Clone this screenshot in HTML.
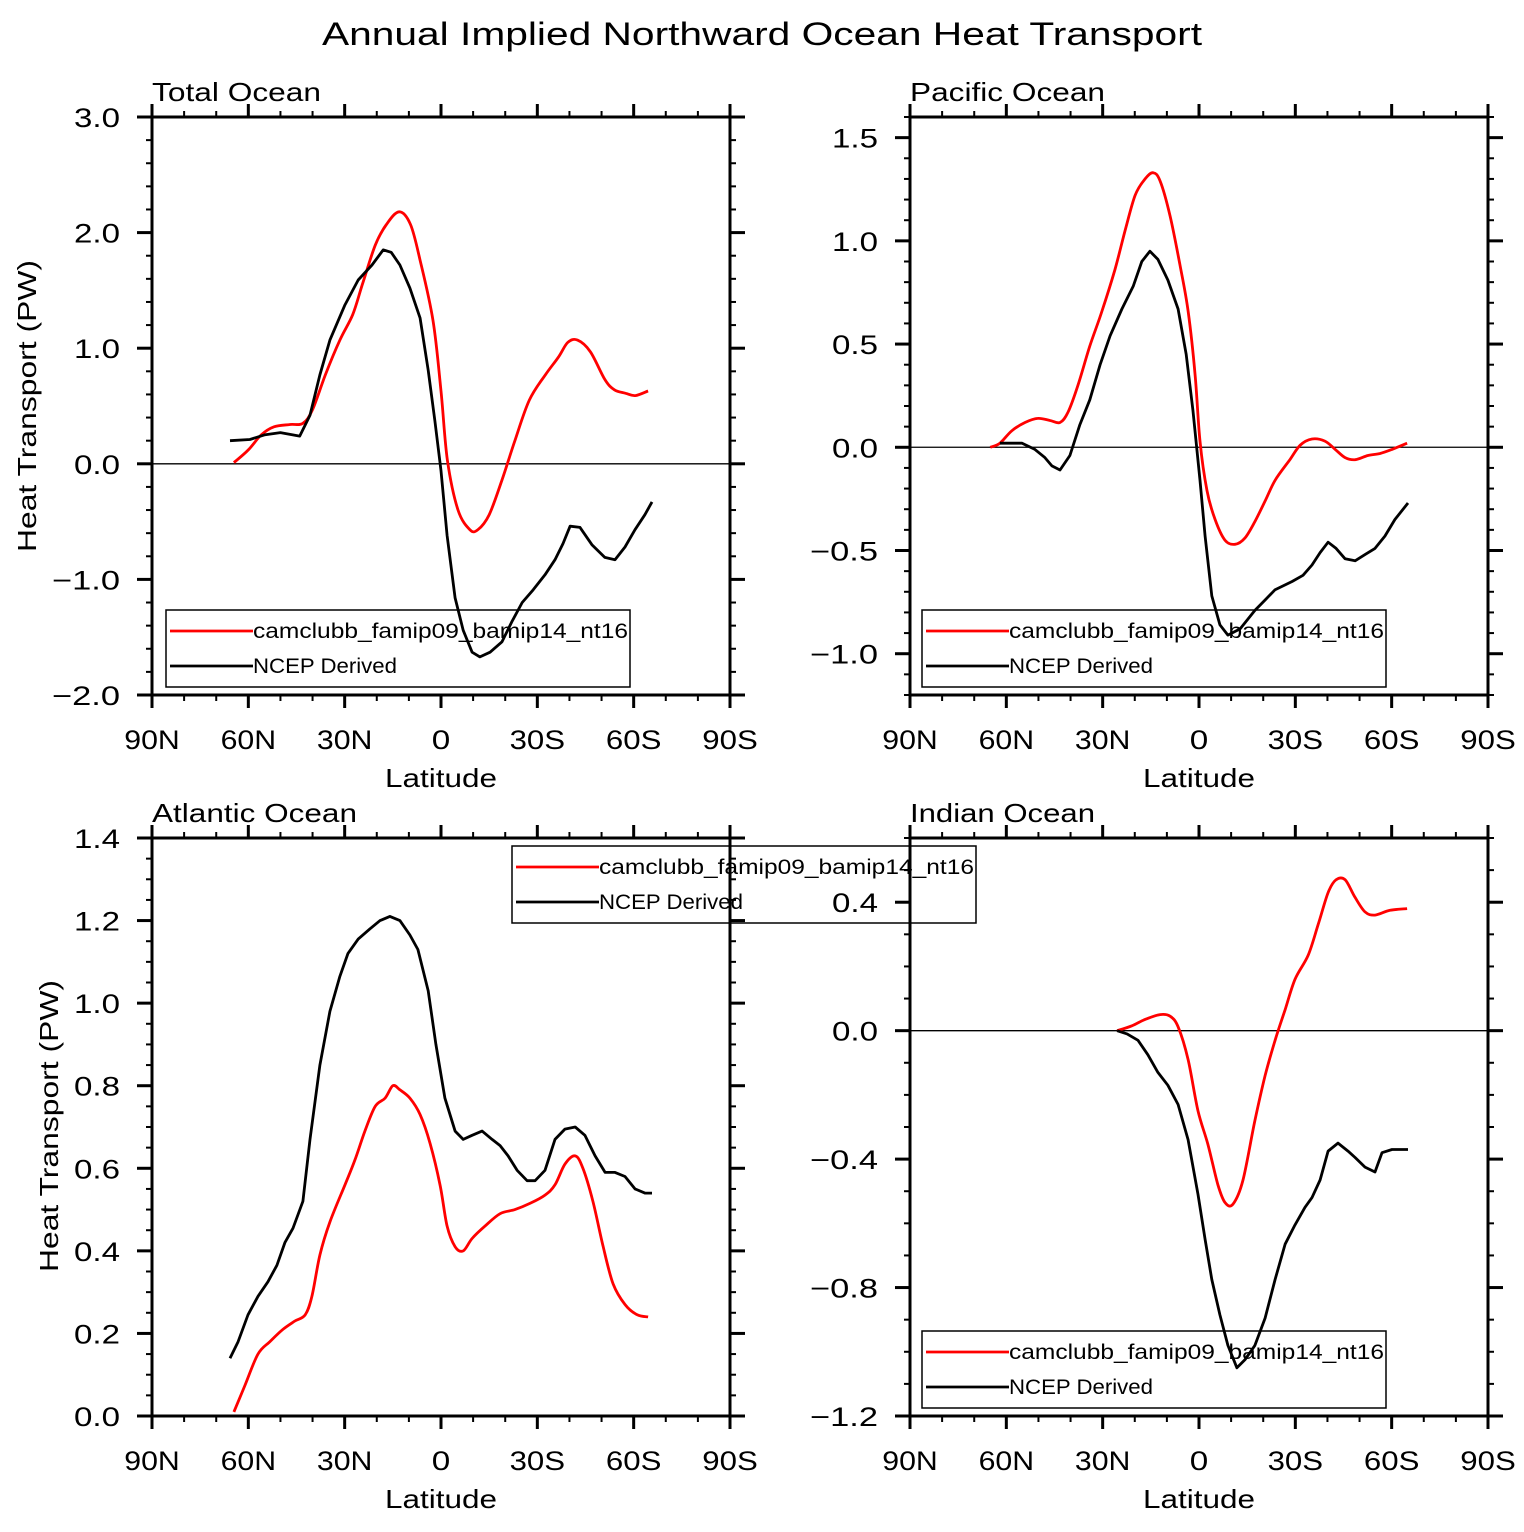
<!DOCTYPE html>
<html><head><meta charset="utf-8"><style>
html,body{margin:0;padding:0;background:#fff;}
svg text{font-family:"Liberation Sans",sans-serif;fill:#000;}
</style></head><body>
<svg id="chart" width="1524" height="1527" viewBox="0 0 1524 1527" xmlns="http://www.w3.org/2000/svg">
<text x="322" y="45" font-size="32" textLength="880" lengthAdjust="spacingAndGlyphs">Annual Implied Northward Ocean Heat Transport</text>
</svg>
<script>
// latitude positions: negative = N, positive = S
const totRedLat=[-64.5,-60,-56,-52,-47,-43,-40,-36,-31.5,-27.5,-24.5,-20.5,-17,-13,-9.5,-6.5,-2.5,0,2,5.3,9,11.5,15,19,23,27.5,32.5,36.5,39.5,42.5,46.5,51,54,57.5,60.5,64.5];
const totRedVal=[0.01,0.12,0.25,0.32,0.34,0.35,0.47,0.77,1.07,1.29,1.55,1.89,2.07,2.18,2.07,1.76,1.24,0.63,0.03,-0.4,-0.57,-0.57,-0.44,-0.14,0.2,0.55,0.77,0.92,1.05,1.07,0.97,0.73,0.64,0.61,0.59,0.63];
const totBlkLat=[-65.7,-59.5,-55,-50,-44,-40.8,-37.7,-34.6,-30,-25.8,-21.5,-18,-15.5,-12.8,-9.7,-6.5,-4,-1.9,0,1.9,4.4,6.9,9.7,12.1,15.3,19,22,25.3,28.7,32.4,35.5,38,40.2,43.3,47,51,54.2,57.3,60.4,63.5,65.7];
const totBlkVal=[0.2,0.21,0.25,0.27,0.24,0.42,0.77,1.07,1.37,1.59,1.72,1.85,1.83,1.72,1.52,1.26,0.81,0.37,-0.06,-0.62,-1.16,-1.44,-1.63,-1.67,-1.63,-1.54,-1.37,-1.2,-1.09,-0.96,-0.83,-0.69,-0.54,-0.55,-0.7,-0.81,-0.83,-0.72,-0.57,-0.44,-0.33];
const pacRedLat=[-65,-62,-58.3,-54.2,-50.2,-46.4,-43.3,-40.8,-37.7,-34,-30.2,-26.2,-23,-19.9,-16.8,-14.3,-12.1,-9,-5.9,-3.4,-1.2,0.3,2.5,5,8.1,11.2,14.3,17.4,20.6,23.7,28.3,31.5,35.2,39.2,42.4,45.5,48.6,52.6,56.4,60.1,64.8];
const pacRedVal=[0,0.02,0.08,0.12,0.14,0.13,0.12,0.17,0.3,0.49,0.66,0.86,1.05,1.22,1.3,1.33,1.29,1.12,0.88,0.66,0.35,0.03,-0.21,-0.35,-0.45,-0.47,-0.44,-0.36,-0.26,-0.16,-0.06,0.01,0.04,0.03,-0.01,-0.05,-0.06,-0.04,-0.03,-0.01,0.02];
const pacBlkLat=[-62,-55.1,-51.1,-48,-45.8,-43.3,-40.2,-37.1,-34,-30.8,-27.7,-24,-20.5,-17.8,-15.3,-12.8,-9.7,-6.5,-4,-1.9,0.3,1.9,4,6.5,9,12.8,17.4,20.6,23.7,29,32.4,35.2,37.7,40.2,42.7,45.5,48.6,51.7,54.8,57.9,61,65.1];
const pacBlkVal=[0.02,0.02,-0.01,-0.05,-0.09,-0.11,-0.04,0.11,0.23,0.4,0.54,0.67,0.78,0.9,0.95,0.91,0.81,0.67,0.45,0.18,-0.16,-0.43,-0.72,-0.86,-0.91,-0.88,-0.79,-0.74,-0.69,-0.65,-0.62,-0.57,-0.51,-0.46,-0.49,-0.54,-0.55,-0.52,-0.49,-0.43,-0.35,-0.27];
const atlRedLat=[-64.5,-61,-57,-53.3,-49.2,-45.5,-42.3,-40.2,-37.7,-34.6,-29.9,-26.8,-23.7,-20.5,-17.4,-15,-12.8,-9.7,-6.5,-3.4,-0.3,1.9,4.4,6.9,9.7,13.7,18.4,23,27.7,32.4,35.5,38.6,41.8,44.2,47.3,50.5,53.6,57.3,61.1,64.5];
const atlRedVal=[0.01,0.075,0.15,0.18,0.21,0.23,0.245,0.29,0.39,0.47,0.56,0.62,0.69,0.75,0.77,0.8,0.79,0.77,0.73,0.66,0.56,0.46,0.41,0.4,0.43,0.46,0.49,0.5,0.515,0.535,0.56,0.61,0.63,0.6,0.52,0.41,0.32,0.27,0.245,0.24];
const atlBlkLat=[-65.7,-63.2,-60.1,-57,-53.9,-51.1,-48.6,-46.1,-43,-40.8,-37.7,-34.6,-31.5,-29,-25.8,-22.1,-19,-15.9,-12.8,-9.7,-7.2,-4,-1.6,1.2,4.4,6.9,9.7,12.8,15.9,18.4,20.9,23.7,26.8,29.3,32.4,35.5,38.6,41.8,44.8,48,51.1,54.2,57.3,60.4,63.5,65.7];
const atlBlkVal=[0.14,0.18,0.245,0.29,0.325,0.365,0.42,0.455,0.52,0.67,0.85,0.98,1.065,1.12,1.155,1.18,1.2,1.21,1.2,1.165,1.13,1.03,0.9,0.77,0.69,0.67,0.68,0.69,0.67,0.655,0.63,0.595,0.57,0.57,0.595,0.67,0.695,0.7,0.68,0.63,0.59,0.59,0.58,0.55,0.54,0.54];
const indRedLat=[-25.5,-20.9,-16.8,-12.1,-9,-6.5,-3.4,-0.3,2.8,5.9,8.1,10.6,13.7,17.4,20.6,23.7,26.8,29.9,34,37.1,40.2,42.7,45.5,48.6,51.7,54.8,59.5,64.8];
const indRedVal=[0,0.015,0.035,0.05,0.045,0.012,-0.09,-0.25,-0.355,-0.48,-0.535,-0.54,-0.465,-0.28,-0.14,-0.03,0.065,0.16,0.235,0.33,0.43,0.47,0.47,0.415,0.37,0.36,0.375,0.38];
const indBlkLat=[-25.5,-22.4,-19,-15.9,-12.8,-9.7,-6.5,-3.4,-0.3,1.9,4,6.5,9,11.8,14.3,17.4,20.6,23.7,26.8,29.9,33,35.2,37.7,40.2,43.3,46.4,48.6,51.7,54.8,57,60.1,65.1];
const indBlkVal=[0,-0.01,-0.03,-0.075,-0.13,-0.17,-0.23,-0.34,-0.51,-0.65,-0.775,-0.885,-0.98,-1.05,-1.025,-0.98,-0.895,-0.775,-0.665,-0.605,-0.55,-0.52,-0.465,-0.375,-0.35,-0.375,-0.395,-0.425,-0.44,-0.38,-0.37,-0.37];
const xTickLabels=["90N","60N","30N","0","30S","60S","90S"];

const NS="http://www.w3.org/2000/svg";
const svg=document.getElementById('chart');
function mk(tag,attrs,parent){const e=document.createElementNS(NS,tag);for(const k in attrs)e.setAttribute(k,attrs[k]);(parent||svg).appendChild(e);return e;}
function fmt(v,dec){const s=Math.abs(v).toFixed(dec);return (v< -1e-9?"\u2212":"")+s;}
function tw(s){let w=0;for(const c of s){w+=c==='.'?9:(c==='\u2212'?22:18.5);}return w;}
function smoothPath(pts){
 let d='M'+pts[0][0].toFixed(1)+','+pts[0][1].toFixed(1);
 for(let i=0;i<pts.length-1;i++){
  const p0=pts[Math.max(0,i-1)],p1=pts[i],p2=pts[i+1],p3=pts[Math.min(pts.length-1,i+2)];
  const c1=[p1[0]+(p2[0]-p0[0])/6,p1[1]+(p2[1]-p0[1])/6];
  const c2=[p2[0]-(p3[0]-p1[0])/6,p2[1]-(p3[1]-p1[1])/6];
  d+=' C'+c1[0].toFixed(1)+','+c1[1].toFixed(1)+' '+c2[0].toFixed(1)+','+c2[1].toFixed(1)+' '+p2[0].toFixed(1)+','+p2[1].toFixed(1);
 }
 return d;
}

const panels=[
 {name:"total",title:"Total Ocean",tw:169,x0:152,y0:117,ymin:-2,ymax:3,major:1,minor:0.2,dec:1,zero:true,yt:true,
  red:[totRedLat,totRedVal],blk:[totBlkLat,totBlkVal],leg:[166,610]},
 {name:"pacific",title:"Pacific Ocean",tw:195,x0:910,y0:117,ymin:-1.2,ymax:1.6,major:0.5,minor:0.1,dec:1,zero:true,yt:false,
  red:[pacRedLat,pacRedVal],blk:[pacBlkLat,pacBlkVal],leg:[922,610]},
 {name:"atlantic",title:"Atlantic Ocean",tw:205,x0:152,y0:838,ymin:0,ymax:1.4,major:0.2,minor:0.05,dec:1,zero:false,yt:true,
  red:[atlRedLat,atlRedVal],blk:[atlBlkLat,atlBlkVal],leg:[512,846]},
 {name:"indian",title:"Indian Ocean",tw:185,x0:910,y0:838,ymin:-1.2,ymax:0.6,major:0.4,minor:0.1,dec:1,zero:true,yt:false,
  red:[indRedLat,indRedVal],blk:[indBlkLat,indBlkVal],leg:[922,1331]}
];
const W=578,H=578;
panels.forEach(p=>{
 const g=mk('g',{});
 
 
 const xs=lat=>p.x0+(lat+90)/180*W;
 const ys=v=>p.y0+(p.ymax-v)/(p.ymax-p.ymin)*H;
 for(let lat=-90;lat<=90;lat+=10){
  const major=lat%30===0, L=major?13:6, x=xs(lat);
  const t1=mk('line',{x1:x,x2:x,y1:p.y0+H,y2:p.y0+H+L,stroke:'#000','stroke-width':major?3:2},g);
  
  
  mk('line',{x1:x,x2:x,y1:p.y0,y2:p.y0-L,stroke:'#000','stroke-width':major?3:2},g);
  if(major){
   const s=xTickLabels[(lat+90)/30];
   const t=mk('text',{x:x,y:p.y0+H+54,'font-size':27,'text-anchor':'middle',textLength:tw(s),lengthAdjust:'spacingAndGlyphs'},g);
   t.textContent=s;
   
   
  }
 }
 const nMin=Math.round((p.ymax-p.ymin)/p.minor);
 for(let i=0;i<=nMin;i++){
  const v=p.ymin+i*p.minor;const y=ys(v);
  const r=Math.abs(v/p.major-Math.round(v/p.major));
  const major=r<1e-6;const L=major?15:6;
  mk('line',{x1:p.x0,x2:p.x0-L,y1:y,y2:y,stroke:'#000','stroke-width':major?3:2},g);
  mk('line',{x1:p.x0+W,x2:p.x0+W+L,y1:y,y2:y,stroke:'#000','stroke-width':major?3:2},g);
  if(major){
   const s=fmt(v,p.dec);
   const t=mk('text',{x:p.x0-32,y:y+10,'font-size':27,'text-anchor':'end',textLength:tw(s),lengthAdjust:'spacingAndGlyphs'},g);
   t.textContent=s;
   
   
  }
 }
 if(p.zero){const zl=mk('line',{x1:p.x0,x2:p.x0+W,y1:ys(0),y2:ys(0),stroke:'#000','stroke-width':1.3},g);
  }
 const fr=mk('rect',{x:p.x0,y:p.y0,width:W,height:H,fill:'none',stroke:'#000','stroke-width':3},g);
 
 
 const tt=mk('text',{x:p.x0,y:p.y0-16,'font-size':26,textLength:p.tw,lengthAdjust:'spacingAndGlyphs'},g);
 tt.textContent=p.title;
 
 
 const xl=mk('text',{x:p.x0+W/2-56,y:p.y0+H+92,'font-size':26,textLength:112,lengthAdjust:'spacingAndGlyphs'},g);
 xl.textContent='Latitude';
 
 
 if(p.yt){
  const cx=p.y0===117?36:58, cy=p.y0===117?406:1126;
  const yl=mk('text',{x:cx,y:cy,'font-size':26,'text-anchor':'middle',transform:`rotate(-90 ${cx} ${cy})`,textLength:292,lengthAdjust:'spacingAndGlyphs'},g);
  yl.textContent='Heat Transport (PW)';
  
  
 }
 [['red',p.red,'#ff0000'],['black',p.blk,'#000']].forEach(([nm,d,c])=>{
  const pts=d[0].map((lat,i)=>[xs(lat),ys(d[1][i])]);
  let pl;
  if(nm==='red'){pl=mk('path',{d:smoothPath(pts),fill:'none',stroke:c,'stroke-width':2.8,'stroke-linejoin':'round'},g);}
  else{pl=mk('polyline',{points:pts.map(q=>q[0].toFixed(1)+','+q[1].toFixed(1)).join(' '),fill:'none',stroke:c,'stroke-width':2.8,'stroke-linejoin':'round'},g);}
  
  
 });
 const [lx,ly]=p.leg;
 const lg=mk('g',{},g);
 
 
 mk('rect',{x:lx,y:ly,width:464,height:77,fill:'none',stroke:'#000','stroke-width':1.5},lg);
 mk('line',{x1:lx+4,x2:lx+87,y1:ly+21,y2:ly+21,stroke:'#ff0000','stroke-width':2.8},lg);
 mk('line',{x1:lx+4,x2:lx+87,y1:ly+56,y2:ly+56,stroke:'#000','stroke-width':2.8},lg);
 const l1=mk('text',{x:lx+87,y:ly+28,'font-size':21,textLength:375,lengthAdjust:'spacingAndGlyphs'},lg);
 l1.textContent='camclubb_famip09_bamip14_nt16';
 
 
 const l2=mk('text',{x:lx+87,y:ly+63,'font-size':21,textLength:144,lengthAdjust:'spacingAndGlyphs'},lg);
 l2.textContent='NCEP Derived';
 
 
});
</script>
</body></html>
